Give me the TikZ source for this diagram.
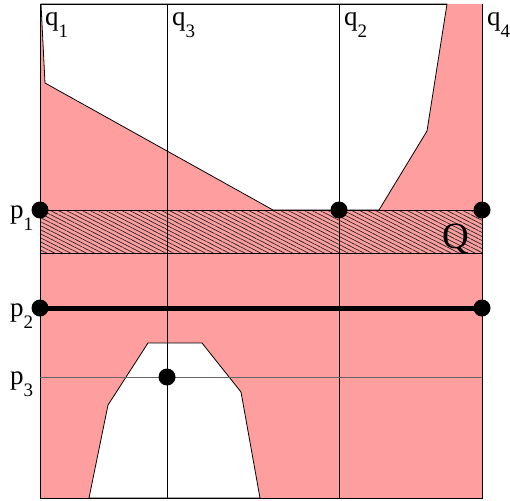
\documentclass[tikz,border=0pt]{standalone}
\usepackage{fontspec}
\setmainfont{Liberation Serif}
\usepackage{xcolor}
\usepackage{tikz}
\usetikzlibrary{patterns.meta}

\definecolor{pinkq}{RGB}{255,158,158}
\newcommand{\lab}[2]{#1\raisebox{-12pt}{\fontsize{19}{19}\selectfont #2}}

\begin{document}
\begin{tikzpicture}[x=1pt, y=-1pt,
    dot/.style={circle, fill=black, inner sep=0pt, minimum size=17pt},
    lbl/.style={inner sep=0pt, anchor=base west, font=\fontsize{27}{27}\selectfont},
    edge/.style={draw=black, line width=0.8pt}]
    \useasboundingbox (0,0) rectangle (510,500);
    \begin{scope}
    % frame
    \coordinate (tl) at (40,4);
    \coordinate (tr) at (482,4);
    \coordinate (bl) at (40,498);
    \coordinate (br) at (482,498);
    \fill[pinkq] (tl) rectangle (br);
    % white regions
    \filldraw[fill=white, edge] (41,4) -- (45,83) -- (273,210) -- (379,210) -- (427,131) -- (447,4) -- cycle;
    \filldraw[fill=white, edge] (89,498) -- (108,405) -- (148,343) -- (202,343) -- (241,392) -- (260,498) -- cycle;
    % band Q
    \fill[pinkq] (40,210) rectangle (482,253);
    \fill[pattern={Lines[angle=-27, distance=3.6pt, line width=0.7pt]}, pattern color=black!85] (40,210) rectangle (482,253);
    \draw[edge] (40,210) -- (482,210);
    \draw[edge] (40,253) -- (482,253);
    % q lines
    \draw[edge] (167,4) -- (167,498);
    \draw[edge] (339,4) -- (339,498);
    \draw[edge] (447,4) -- (tl) -- (bl) -- (br) -- (tr);
    % p lines
    \coordinate (p1l) at (40,210);
    \coordinate (p1m) at (339,210);
    \coordinate (p1r) at (482,210);
    \coordinate (p2l) at (40,308);
    \coordinate (p2r) at (482,308);
    \coordinate (p3l) at (40,377);
    \coordinate (p3r) at (482,377);
    \coordinate (p3m) at (167,377);
    \draw[black!60, line width=0.9pt] (p3l) -- (p3r);
    \draw[line width=5pt] (p2l) -- (p2r);
    \foreach \c in {p1l, p1m, p1r, p2l, p2r, p3m}
        \node[dot] at (\c) {};
    % labels
    \node[lbl] (q1) at (45,26) {\lab{q}{1}};
    \node[lbl] (q3) at (172,26) {\lab{q}{3}};
    \node[lbl] (q2) at (344,26) {\lab{q}{2}};
    \node[lbl] (q4) at (487,26) {\lab{q}{4}};
    \node[lbl] (p1) at (10,218) {\lab{p}{1}};
    \node[lbl] (p2) at (10,316) {\lab{p}{2}};
    \node[lbl] (p3) at (10,384) {\lab{p}{3}};
    \node[lbl, font=\fontsize{37}{37}\selectfont] (Q) at (442,248) {Q};
    \end{scope}
\end{tikzpicture}
\end{document}
